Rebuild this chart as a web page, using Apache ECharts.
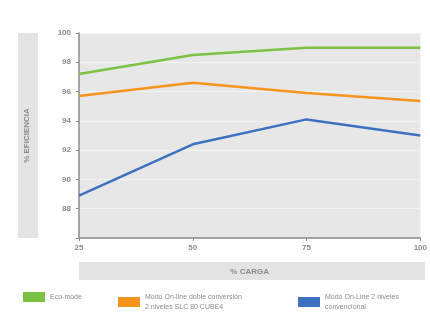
<!DOCTYPE html>
<html>
<head>
<meta charset="utf-8">
<script src="https://cdn.jsdelivr.net/npm/echarts@6/dist/echarts.min.js"></script>
<style>
  html, body { margin: 0; padding: 0; background: #fff; }
  #main { width: 430px; height: 331px; }
</style>
</head>
<body>
<div id="main"></div>
<script>
  // datos
  var cargas = ['25', '50', '75', '100'];
  var ecoMode = [97.2, 98.5, 99.0, 99.0];
  var dobleConversion = [95.7, 96.6, 95.9, 95.35];
  var convencional = [88.9, 92.4, 94.1, 93.0];
  var seriesNames = ['Eco-mode', 'Modo On-line doble conversión\n2 niveles SLC 80 CUBE4', 'Modo On-Line 2 niveles\nconvencional'];
  var colores = ['#7cc242', '#f7941d', '#3d71bf'];

  var chart = echarts.init(document.getElementById('main'));
  var txt = '#8a8a8a';

  function leyenda(i, left) {
    return {
      left: left, top: 287, orient: 'horizontal',
      data: [seriesNames[i]],
      icon: 'rect', itemWidth: 22, itemHeight: 10, itemGap: 0,
      textStyle: { color: txt, fontSize: 7, fontFamily: 'Liberation Sans', lineHeight: 10 },
      selectedMode: false
    };
  }

  chart.setOption({
    animation: false,
    color: colores,
    grid: { left: 79, right: 5, top: 33, bottom: 93, show: true, backgroundColor: '#e7e7e7', borderWidth: 0 },
    graphic: [
      { type: 'rect', shape: { x: 18, y: 33, width: 20, height: 205 }, style: { fill: '#e3e3e3' }, z: -1 },
      { type: 'rect', shape: { x: 79, y: 262, width: 346, height: 18 }, style: { fill: '#e3e3e3' }, z: -1 }
    ],
    legend: [leyenda(0, 18), leyenda(1, 113), leyenda(2, 293)],
    xAxis: {
      type: 'category', data: cargas, boundaryGap: false,
      name: '% CARGA', nameLocation: 'middle', nameGap: 30,
      nameTextStyle: { color: txt, fontSize: 8, fontWeight: 'bold', fontFamily: 'Liberation Sans' },
      axisLine: { lineStyle: { color: '#8c8c8c', width: 1.5 } },
      axisTick: { show: true, length: 3, lineStyle: { color: '#8c8c8c' } },
      axisLabel: { color: txt, fontSize: 8, fontWeight: 'bold', margin: 6, fontFamily: 'Liberation Sans' },
      splitLine: { show: false }
    },
    yAxis: {
      type: 'value', min: 86, max: 100, interval: 2,
      name: '% EFICIENCIA', nameLocation: 'middle', nameRotate: 90, nameGap: 48,
      nameTextStyle: { color: txt, fontSize: 8, fontWeight: 'bold', fontFamily: 'Liberation Sans' },
      axisLine: { show: true, lineStyle: { color: '#8c8c8c', width: 1.5 } },
      axisTick: { show: true, length: 3, lineStyle: { color: '#8c8c8c' } },
      axisLabel: {
        color: txt, fontSize: 8, fontWeight: 'bold', margin: 8, fontFamily: 'Liberation Sans',
        formatter: function (v) { return v === 86 ? '' : v; }
      },
      splitLine: { show: true, lineStyle: { color: '#f2f2f2', width: 1 } }
    },
    series: [
      { name: seriesNames[0], type: 'line', data: ecoMode, symbol: 'none', lineStyle: { width: 2.5 } },
      { name: seriesNames[1], type: 'line', data: dobleConversion, symbol: 'none', lineStyle: { width: 2.5 } },
      { name: seriesNames[2], type: 'line', data: convencional, symbol: 'none', lineStyle: { width: 2.5 } }
    ]
  });
</script>
</body>
</html>
